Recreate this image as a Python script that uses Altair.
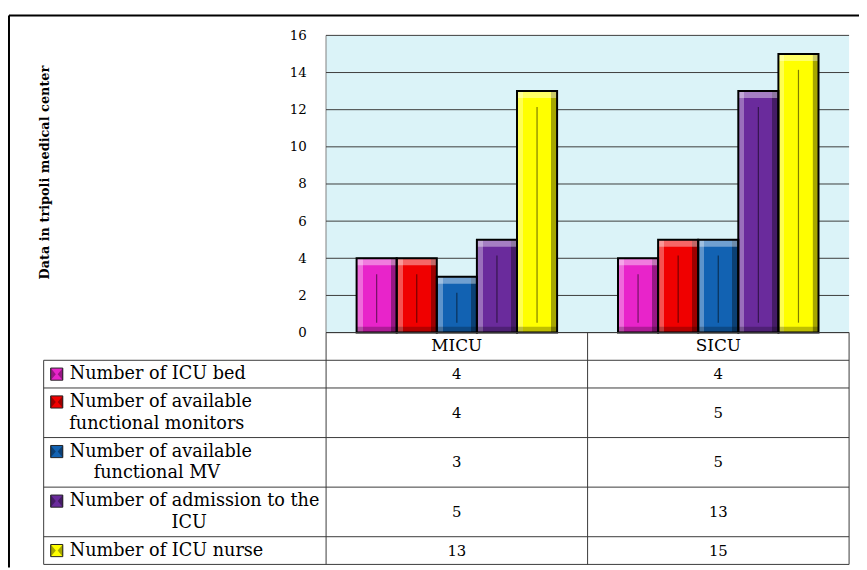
import altair as alt
import pandas as pd

# ---------------- data ----------------
CATEGORIES = ["MICU", "SICU"]
SERIES = [
    "Number of ICU bed",
    "Number of available functional monitors",
    "Number of available functional MV",
    "Number of admission to the ICU",
    "Number of ICU nurse",
]
SERIES_LINES = [
    ["Number of ICU bed"],
    ["Number of available", "functional monitors"],
    ["Number of available", "functional MV"],
    ["Number of admission to the", "ICU"],
    ["Number of ICU nurse"],
]
MICU_VALUES = [4, 4, 3, 5, 13]
SICU_VALUES = [4, 5, 5, 13, 15]
Y_TICKS = [0, 2, 4, 6, 8, 10, 12, 14, 16]
Y_TITLE = "Data in tripoli medical center"

# ---------------- style / layout ----------------
COLORS = ["#E824CA", "#F00000", "#1262B2", "#6A2B9C", "#FFFF00"]
PLOT_BG = "#DBF3F8"
FONT = "DejaVu Serif"
W, H = 859, 562
PLOT_X0, PLOT_X1 = 321, 849
PLOT_BOTTOM, PLOT_TOP = 325, 25
TABLE_X0, TABLE_BOTTOM = 36, 559
LEG = 1.08            # legend column width, in data-column units
LINE_GAP = 0.78       # gap between wrapped lines, in row units
EXTRA_LINE = 0.79     # extra row height per extra text line
LABEL_FS = 17.8
UNIT_PX = (PLOT_X1 - TABLE_X0) / (2 + LEG)

EM = {" ": .318, "a": .596, "b": .640, "c": .552, "d": .640, "e": .592, "f": .372,
      "h": .645, "i": .320, "l": .320, "m": .952, "n": .645, "o": .602, "r": .478,
      "s": .513, "t": .400, "u": .645, "v": .570, "C": .727, "I": .402, "U": .815,
      "N": .815, "M": .994, "V": .750}


def text_w(s):
    return sum(EM.get(ch, 0.6) for ch in s) * LABEL_FS * 0.96


# ---------------- tables built from data ----------------
bars_df = pd.DataFrame([
    {"category": c, "series": s, "value": v, "zero": 0}
    for c, vals in zip(CATEGORIES, [MICU_VALUES, SICU_VALUES])
    for s, v in zip(SERIES, vals)
])

row_h = [1.0] + [1.0 + EXTRA_LINE * (len(l) - 1) for l in SERIES_LINES]
bounds = [0.0]
for h in row_h:
    bounds.append(bounds[-1] + h)
T = bounds[-1]
centers = [(bounds[i] + bounds[i + 1]) / 2 for i in range(len(row_h))]

hlines = [{"y": 0.0, "x1": 0.0, "x2": 2.0}] + [
    {"y": b, "x1": -LEG, "x2": 2.0} for b in bounds[1:]
]
vlines = [{"x": -LEG, "y1": bounds[1], "y2": T}] + [
    {"x": float(i), "y1": 0.0, "y2": T} for i in range(3)
]
header_df = pd.DataFrame({"text": CATEGORIES, "x": [i + 0.5 for i in range(2)],
                          "y": [centers[0]] * 2})
vals_rows = []
for r, s in enumerate(SERIES):
    for c, vals in enumerate([MICU_VALUES, SICU_VALUES]):
        vals_rows.append({"text": str(vals[r]), "x": c + 0.5, "y": centers[r + 1]})
vals_df = pd.DataFrame(vals_rows)

LABEL_X = -LEG + 0.1
KEY_X = -LEG + 0.05
left_rows, center_rows, key_rows = [], [], []
for r, (s, lines) in enumerate(zip(SERIES, SERIES_LINES)):
    n = len(lines)
    ys = [centers[r + 1] + (j - (n - 1) / 2) * LINE_GAP for j in range(n)]
    left_rows.append({"text": lines[0], "x": LABEL_X, "y": ys[0]})
    key_rows.append({"series": s, "x": KEY_X, "y": ys[0]})
    mid = LABEL_X + text_w(lines[0]) / 2 / UNIT_PX
    for j in range(1, n):
        center_rows.append({"text": lines[j], "x": mid, "y": ys[j]})

# ---------------- scales ----------------
XS = alt.Scale(domain=CATEGORIES, range=[PLOT_X0, PLOT_X1],
               paddingInner=0.233, paddingOuter=0.117)
XOS = alt.Scale(domain=SERIES, paddingInner=0, paddingOuter=0)
YS = alt.Scale(domain=[0, 16], range=[PLOT_BOTTOM, PLOT_TOP], nice=False, zero=False)
CS = alt.Scale(domain=SERIES, range=COLORS)
Y_AXIS = alt.Axis(values=Y_TICKS, offset=-PLOT_X0, grid=False, domain=False,
                  ticks=False, tickSize=0, labelPadding=20, labelFont=FONT,
                  labelFontSize=13.5, labelColor="black", title=Y_TITLE,
                  titleFont=FONT, titleFontSize=13, titleFontWeight="bold",
                  titleColor="black", titleX=37 - PLOT_X0, titleY=163,
                  titleAngle=270, titleAlign="center", titleBaseline="middle")
TXS = alt.Scale(domain=[-LEG, 2], range=[TABLE_X0, PLOT_X1], nice=False, zero=False)
TYS = alt.Scale(domain=[0, T], range=[PLOT_BOTTOM, TABLE_BOTTOM], nice=False, zero=False)

X = alt.X("category:N", scale=XS, axis=None)
XO = alt.XOffset("series:N", scale=XOS)
COL = alt.Color("series:N", scale=CS, legend=None)

# ---------------- decoration ----------------
frame_l = alt.Chart(pd.DataFrame({"a": [0]})).mark_rule(color="black", strokeWidth=2).encode(
    x=alt.value(1), y=alt.value(5), y2=alt.value(H))
frame_t = alt.Chart(pd.DataFrame({"a": [0]})).mark_rule(color="black", strokeWidth=2).encode(
    x=alt.value(1), x2=alt.value(W), y=alt.value(5))
bg = alt.Chart(pd.DataFrame({"a": [0]})).mark_rect(color=PLOT_BG).encode(
    x=alt.value(PLOT_X0), x2=alt.value(PLOT_X1), y=alt.value(PLOT_TOP), y2=alt.value(PLOT_BOTTOM))
plot_left = alt.Chart(pd.DataFrame({"a": [0]})).mark_rule(color="#808080", strokeWidth=1).encode(
    x=alt.value(PLOT_X0), y=alt.value(PLOT_TOP), y2=alt.value(PLOT_BOTTOM))

# ---------------- bars ----------------
grid = alt.Chart(pd.DataFrame({"tick": Y_TICKS})).mark_rule(color="#3c3c3c", strokeWidth=1).encode(
    x=alt.value(PLOT_X0), x2=alt.value(PLOT_X1),
    y=alt.Y("tick:Q", scale=YS, axis=Y_AXIS))

base = alt.Chart(bars_df)
YV = alt.Y("value:Q", scale=YS, axis=Y_AXIS, stack=None)
SIDE_GRAD = alt.LinearGradient(
    gradient="linear", x1=0, x2=1, y1=0, y2=0,
    stops=[alt.GradientStop(offset=0, color="rgba(255,255,255,0.32)"),
           alt.GradientStop(offset=0.15, color="rgba(255,255,255,0.32)"),
           alt.GradientStop(offset=0.151, color="rgba(255,255,255,0)"),
           alt.GradientStop(offset=0.85, color="rgba(0,0,0,0)"),
           alt.GradientStop(offset=0.851, color="rgba(0,0,0,0.35)"),
           alt.GradientStop(offset=1, color="rgba(0,0,0,0.35)")])

body = base.mark_bar().encode(
    x=X, xOffset=XO, y=YV, y2=alt.Y2("zero:Q"), color=COL)
sides = base.mark_bar(fill=SIDE_GRAD).encode(
    x=X, xOffset=XO, y=YV, y2=alt.Y2("zero:Q"))
top_bevel = base.mark_bar(color="white", opacity=0.4, y2Offset=7).encode(
    x=X, xOffset=XO, y=YV, y2=alt.Y2("value:Q"))
bottom_bevel = base.mark_bar(color="black", opacity=0.25, yOffset=-6).encode(
    x=X, xOffset=XO, y=alt.Y("zero:Q", scale=YS, axis=Y_AXIS, stack=None),
    y2=alt.Y2("zero:Q"))
groove = base.mark_rule(color="black", opacity=0.5, strokeWidth=1.2,
                        yOffset=16, y2Offset=-10).encode(
    x=X, xOffset=XO, y=YV, y2=alt.Y2("zero:Q"))
outline = base.mark_bar(fill="transparent", stroke="#000000", strokeWidth=2,
                        strokeOpacity=1).encode(
    x=X, xOffset=XO, y=YV, y2=alt.Y2("zero:Q"))

bars_layer = alt.layer(grid, body, sides, top_bevel, bottom_bevel, groove, outline)

# ---------------- data table ----------------
TX = lambda f: alt.X(f, scale=TXS, axis=None)
TY = lambda f: alt.Y(f, scale=TYS, axis=None)
LINE_C = "#3a3a3a"

h_rules = alt.Chart(pd.DataFrame(hlines)).mark_rule(color=LINE_C, strokeWidth=1).encode(
    x=TX("x1:Q"), x2="x2:Q", y=TY("y:Q"))
v_rules = alt.Chart(pd.DataFrame(vlines)).mark_rule(color=LINE_C, strokeWidth=1).encode(
    x=TX("x:Q"), y=TY("y1:Q"), y2="y2:Q")
header_txt = alt.Chart(header_df).mark_text(font=FONT, fontSize=17, color="black",
                                            baseline="middle").encode(
    x=TX("x:Q"), y=TY("y:Q"), text="text:N")
vals_txt = alt.Chart(vals_df).mark_text(font=FONT, fontSize=15, color="black",
                                        baseline="middle").encode(
    x=TX("x:Q"), y=TY("y:Q"), text="text:N")
lab_left = alt.Chart(pd.DataFrame(left_rows)).mark_text(
    font=FONT, fontSize=LABEL_FS, color="black", align="left", baseline="middle").encode(
    x=TX("x:Q"), y=TY("y:Q"), text="text:N")
lab_center = alt.Chart(pd.DataFrame(center_rows)).mark_text(
    font=FONT, fontSize=LABEL_FS, color="black", align="center", baseline="middle").encode(
    x=TX("x:Q"), y=TY("y:Q"), text="text:N")
keys = alt.Chart(pd.DataFrame(key_rows)).mark_square(
    size=150, filled=True, opacity=1, stroke="#222222", strokeWidth=1).encode(
    x=TX("x:Q"), y=TY("y:Q"), color=COL)
keys_shade = alt.Chart(pd.DataFrame(key_rows)).mark_point(
    shape="M-1,-1L-0.15,0L-1,1Z M1,-1L0.15,0L1,1Z", size=150, filled=True,
    color="black", opacity=0.35).encode(x=TX("x:Q"), y=TY("y:Q"))

table_layer = alt.layer(h_rules, v_rules, header_txt, vals_txt, lab_left,
                        lab_center, keys, keys_shade)

chart = alt.layer(frame_l, frame_t, bg, plot_left, bars_layer, table_layer).resolve_scale(
    x="independent", y="independent").resolve_axis(
    x="independent", y="independent").properties(
    width=W, height=H, autosize=alt.AutoSizeParams(type="none"), padding=0,
    background="white").configure_view(stroke=None)

chart.save("out.html", embed_options={"renderer": "svg", "actions": False})
